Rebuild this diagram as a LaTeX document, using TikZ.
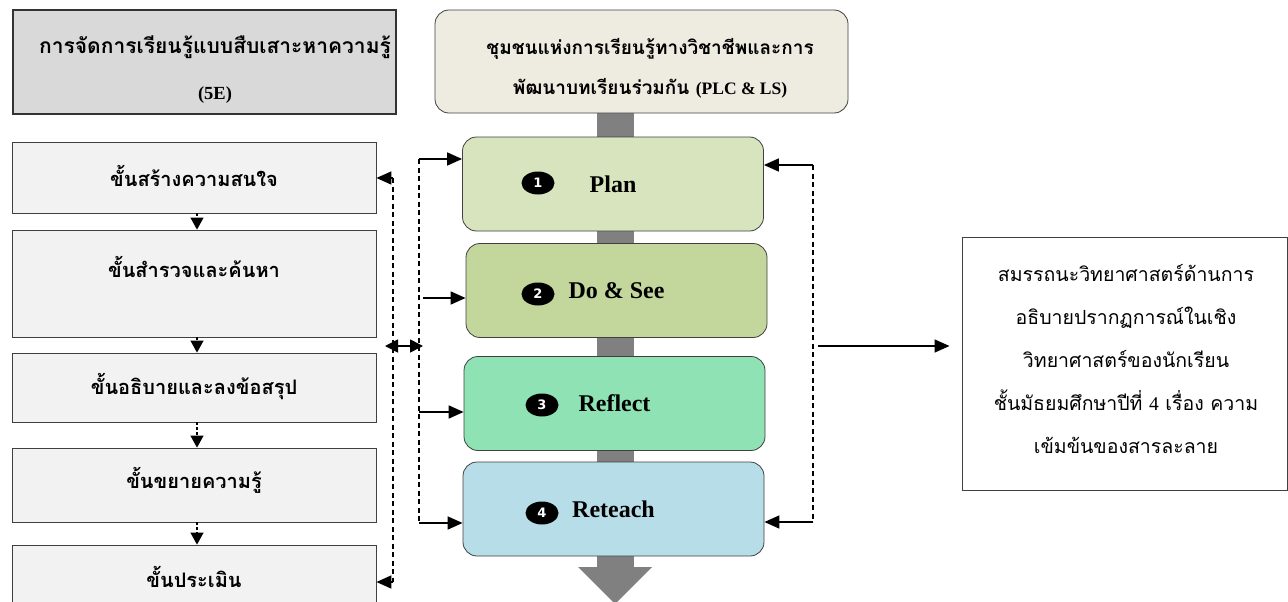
\documentclass[tikz,border=0pt]{standalone}
\usepackage{fontspec}
\setmainfont{Liberation Serif}
\newfontfamily\thai[Script=Thai]{Loma}
\newfontfamily\digits{DejaVu Sans}
\usetikzlibrary{arrows.meta,shapes.geometric,calc}

\definecolor{titlegray}{HTML}{D9D9D9}
\definecolor{stepgray}{HTML}{F2F2F2}
\definecolor{beige}{HTML}{EEECE1}
\definecolor{planfill}{HTML}{D7E4BD}
\definecolor{dofill}{HTML}{C3D69B}
\definecolor{reflectfill}{HTML}{8EE2B4}
\definecolor{reteachfill}{HTML}{B7DEE8}
\definecolor{bargray}{HTML}{808080}
\definecolor{edge}{HTML}{404040}

\begin{document}
\begin{tikzpicture}[x=1pt,y=-1pt,
  box/.style={draw=edge, line width=0.8pt, inner sep=0pt},
  stepbox/.style={box, fill=stepgray, minimum width=364pt},
  steptext/.style={font=\thai\bfseries\fontsize{20}{24}\selectfont},
  phase/.style={draw=edge, line width=0.8pt, rounded corners=14pt, minimum width=301pt, minimum height=94pt, inner sep=0pt, font=\bfseries\fontsize{24}{28}\selectfont},
  badge/.style={ellipse, fill=black, minimum width=33pt, minimum height=23pt, inner sep=0pt, text=white, font=\digits\bfseries\fontsize{13}{13}\selectfont},
  tip/.style={-{Triangle[length=15pt,width=13pt]}},
  solidarrow/.style={tip, line width=1.6pt},
  dashline/.style={line width=1.8pt, dash pattern=on 5pt off 3.5pt},
  stepflow/.style={-{Triangle[length=12pt,width=13pt]}, line width=1.1pt, dash pattern=on 3pt off 2pt},
]
\useasboundingbox (0,0) rectangle (1288,602);

% ---------- 5E column ----------
\node[box, fill=titlegray, draw=black!80, line width=1.8pt, minimum width=383pt, minimum height=104pt] (t5e) at (204.5,62) {};
\node[align=center, font=\thai\bfseries\fontsize{21}{46}\selectfont] (t5etext) at (215,70)
  {การจัดการเรียนรู้แบบสืบเสาะหาความรู้\\{\rmfamily\fontsize{18.5}{20}\selectfont (5E)}};

\node[stepbox, minimum height=71pt] (s1) at (194,177.5) {};
\node[steptext] (s1t) at (194,176) {ขั้นสร้างความสนใจ};
\node[stepbox, minimum height=107pt] (s2) at (194,283.5) {};
\node[steptext] (s2t) at (194,267) {ขั้นสำรวจและค้นหา};
\node[stepbox, minimum height=69pt] (s3) at (194,387.5) {};
\node[steptext] (s3t) at (194,387) {ขั้นอธิบายและลงข้อสรุป};
\node[stepbox, minimum height=74pt] (s4) at (194,485) {};
\node[steptext] (s4t) at (194,480) {ขั้นขยายความรู้};
\node[stepbox, minimum height=66pt] (s5) at (194,578) {};
\node[steptext] (s5t) at (194,577) {ขั้นประเมิน};

\foreach \a/\b in {s1/s2, s2/s3, s3/s4, s4/s5}
  \draw[stepflow] ([xshift=3pt]\a.south) -- ([xshift=3pt]\b.north);

% ---------- PLC & LS column ----------
\fill[bargray] (597,113) rectangle (634,568);
\fill[bargray] (578,567) -- (652,567) -- (615,604) -- cycle;

\node[box, fill=beige, rounded corners=14pt, minimum width=413pt, minimum height=103pt] (plc) at (641.5,61.5) {};
\node[align=center, font=\thai\bfseries\fontsize{19}{40}\selectfont] (plctext) at (650,68)
  {ชุมชนแห่งการเรียนรู้ทางวิชาชีพและการ\\พัฒนาบทเรียนร่วมกัน {\rmfamily\fontsize{17.5}{20}\selectfont (PLC \& LS)}};

\node[phase, fill=planfill] (plan) at (613,184) {Plan};
\node[phase, fill=dofill] (dosee) at (616.5,290.5) {Do \& See};
\node[phase, fill=reflectfill] (reflect) at (614.5,403.5) {Reflect};
\node[phase, fill=reteachfill] (reteach) at (613.5,509) {Reteach};

\node[badge] (b1) at (538,183) {1};
\node[badge] (b2) at (538,294) {2};
\node[badge] (b3) at (542,405) {3};
\node[badge] (b4) at (542,513) {4};

% ---------- outcome ----------
\node[box, line width=1pt, minimum width=325pt, minimum height=253pt] (goal) at (1124.5,363.5) {};
\node[align=center, font=\thai\fontsize{19.5}{43}\selectfont] (goaltext) at (1126,358.5)
  {สมรรถนะวิทยาศาสตร์ด้านการ\\อธิบายปรากฏการณ์ในเชิง\\วิทยาศาสตร์ของนักเรียน\\ชั้นมัธยมศึกษาปีที่ {\rmfamily 4} เรื่อง ความ\\เข้มข้นของสารละลาย};

% ---------- links between the columns ----------
\coordinate (a1) at (393,178);
\coordinate (a5) at (393,582);
\draw[dashline, line width=1.3pt] (a1) -- (a5);
\draw[solidarrow] (a1) -- (a1 -| s1.east);
\draw[solidarrow] (a5) -- (a5 -| s5.east);

\coordinate (p1) at (419,159);
\coordinate (p2) at (423,298);
\coordinate (p3) at (419,412);
\coordinate (p4) at (419,523);
\draw[dashline] (p1) -- (p4);
\draw[solidarrow] (p1) -- (p1 -| plan.west);
\draw[solidarrow] (p2) -- (p2 -| dosee.west);
\draw[solidarrow] (p3) -- (p3 -| reflect.west);
\draw[solidarrow] (p4) -- (p4 -| reteach.west);

\coordinate (m1) at (385,346);
\coordinate (m2) at (423,346);
\draw[line width=1.6pt, {Triangle[length=13pt,width=13pt]}-{Triangle[length=13pt,width=13pt]}] (m1) -- (m2);

\coordinate (r1) at (813,165);
\coordinate (r4) at (813,522);
\draw[dashline] (r1) -- (r4);
\draw[solidarrow] (r1) -- (r1 -| plan.east);
\draw[solidarrow] (r4) -- (r4 -| reteach.east);

\coordinate (g0) at (818,346);
\draw[solidarrow, shorten >=12pt] (g0) -- (g0 -| goal.west);
\end{tikzpicture}
\end{document}
